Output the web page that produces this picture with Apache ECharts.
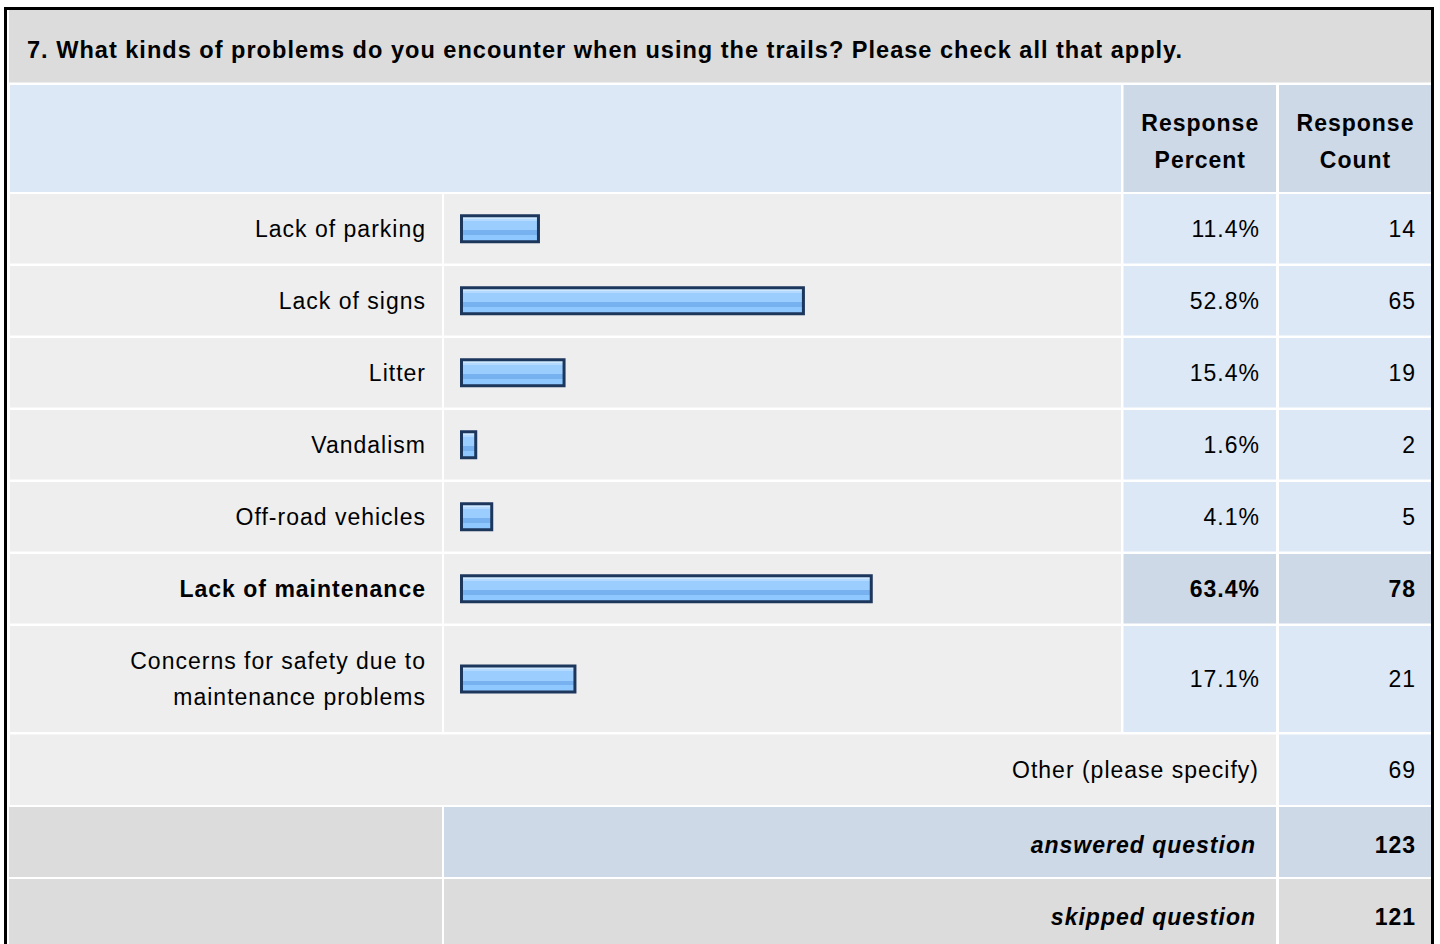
<!DOCTYPE html>
<html>
<head>
<meta charset="utf-8">
<script src="https://cdn.jsdelivr.net/npm/echarts@6/dist/echarts.min.js"></script>
<style>
  html, body { margin: 0; padding: 0; background: #fff; }
  #chart { width: 1440px; height: 944px; }
  /* survey-style tracking on every label */
  #chart text { letter-spacing: 1px; }
</style>
</head>
<body>
<div id="chart"></div>
<script>
// ---- survey question data ----
const questionTitle = '7. What kinds of problems do you encounter when using the trails? Please check all that apply.';
const headerPercent = ['Response', 'Percent'];
const headerCount = ['Response', 'Count'];
const categories = [
  'Lack of parking',
  'Lack of signs',
  'Litter',
  'Vandalism',
  'Off-road vehicles',
  'Lack of maintenance',
  'Concerns for safety due to maintenance problems'
];
const responsePercent = [11.4, 52.8, 15.4, 1.6, 4.1, 63.4, 17.1];
const responseCount = [14, 65, 19, 2, 5, 78, 21];
const otherLabel = 'Other (please specify)';
const otherCount = 69;
const summaryLabels = ['answered question', 'skipped question'];
const summaryCounts = [123, 121];

// ---- table layout ----
const FONT = "'Liberation Sans', Arial, Helvetica, sans-serif";
const FS = 23;
const COL = [[10, 442], [444, 1121], [1123.5, 1276], [1279, 1431]];
const rowTop = [194, 266, 338, 410, 482, 554, 626];
const rowH = [69.5, 69.5, 69.5, 69.5, 69.5, 69.5, 106];
const BAR_ZERO = 463.5;             // x of 0 %
const BAR_SPAN = 640;               // pixels covering 0..100 %
const LABEL_RIGHT = 426;
const topIdx = responsePercent.indexOf(Math.max(...responsePercent));

const C_GRAY = '#dcdcdc', C_ROW = '#eeeeee', C_BLUE = '#dce8f5', C_BLUE2 = '#cdd9e6';

function wrap(text, maxChars) {
  const words = text.split(' ');
  const lines = [];
  let cur = '';
  words.forEach(w => {
    if (cur && (cur + ' ' + w).length > maxChars) { lines.push(cur); cur = w; }
    else cur = cur ? cur + ' ' + w : w;
  });
  if (cur) lines.push(cur);
  return lines.join('\n');
}

const graphics = [];
function cell(x0, x1, y, h, fill) {
  graphics.push({ type: 'rect', z: -10, silent: true,
    shape: { x: x0, y: y, width: x1 - x0, height: h }, style: { fill: fill } });
}
function label(text, x, y, align, opts) {
  opts = opts || {};
  graphics.push({ type: 'text', z: 50, silent: true, x: x, y: y,
    style: { text: text, fill: '#000',
      font: (opts.style || 'normal') + ' ' + (opts.weight || 'normal') + ' ' + (opts.size || FS) + 'px ' + FONT,
      align: align, verticalAlign: 'middle' } });
}

// outer frame
graphics.push({ type: 'rect', z: -20, silent: true,
  shape: { x: 5.5, y: 8.5, width: 1427, height: 1000 },
  style: { fill: '#fff', stroke: '#000', lineWidth: 3 } });

// title row
cell(9, 1431, 10, 72.5, C_GRAY);
label(questionTitle, 27, 50, 'left', { weight: 'bold', size: 23.55 });

// header row
cell(COL[0][0], COL[1][1], 85, 107, C_BLUE);
cell(COL[2][0], COL[2][1], 85, 107, C_BLUE2);
cell(COL[3][0], COL[3][1], 85, 107, C_BLUE2);
const pc = (COL[2][0] + COL[2][1]) / 2 + 0.5, cc = (COL[3][0] + COL[3][1]) / 2 + 0.5;
label(headerPercent[0], pc, 122.5, 'center', { weight: 'bold' });
label(headerPercent[1], pc, 160, 'center', { weight: 'bold' });
label(headerCount[0], cc, 122.5, 'center', { weight: 'bold' });
label(headerCount[1], cc, 160, 'center', { weight: 'bold' });

// answer rows: cells, percent and count text
categories.forEach((name, i) => {
  const y = rowTop[i], h = rowH[i], mid = y + h / 2;
  const hi = i === topIdx;
  cell(COL[0][0], COL[0][1], y, h, C_ROW);
  cell(COL[1][0], COL[1][1], y, h, C_ROW);
  cell(COL[2][0], COL[2][1], y, h, hi ? C_BLUE2 : C_BLUE);
  cell(COL[3][0], COL[3][1], y, h, hi ? C_BLUE2 : C_BLUE);
  label(responsePercent[i].toFixed(1) + '%', 1260, mid, 'right', { weight: hi ? 'bold' : 'normal' });
  label(String(responseCount[i]), 1416, mid, 'right', { weight: hi ? 'bold' : 'normal' });
});

// "other" row
cell(COL[0][0], COL[2][1], 734.5, 70.5, C_ROW);
cell(COL[3][0], COL[3][1], 734.5, 70.5, C_BLUE);
label(otherLabel, 1259, 769.5, 'right');
label(String(otherCount), 1416, 769.5, 'right');

// summary rows
const sumTop = [807, 879], sumH = [70, 80], sumFill = [C_BLUE2, C_GRAY];
summaryLabels.forEach((t, i) => {
  cell(9, COL[0][1], sumTop[i], sumH[i], C_GRAY);
  cell(COL[1][0], COL[2][1], sumTop[i], sumH[i], sumFill[i]);
  cell(COL[3][0], COL[3][1], sumTop[i], sumH[i], sumFill[i]);
  const mid = i === 0 ? 844.5 : 916.5;
  label(t, 1256, mid, 'right', { weight: 'bold', style: 'italic' });
  label(String(summaryCounts[i]), 1416, mid, 'right', { weight: 'bold' });
});

// glossy bar fill
const barFill = new echarts.graphic.LinearGradient(0, 0, 0, 1, [
  { offset: 0, color: '#cde7ff' }, { offset: 0.13, color: '#cde7ff' },
  { offset: 0.13, color: '#b4daff' }, { offset: 0.21, color: '#b4daff' },
  { offset: 0.21, color: '#9bcdff' }, { offset: 0.56, color: '#9bcdff' },
  { offset: 0.56, color: '#78b1f0' }, { offset: 0.74, color: '#78b1f0' },
  { offset: 0.74, color: '#8fc7ff' }, { offset: 1, color: '#8fc7ff' }
]);

// framed bar from 0 to the row's value, with a small inset margin around it
function renderBar(params, api) {
  const cat = api.value(1);
  const p0 = api.coord([0, cat]);
  const p1 = api.coord([api.value(0), cat]);
  return {
    type: 'rect',
    shape: { x: p0[0] - 2, y: p1[1] - 13, width: p1[0] - p0[0] + 4, height: 26 },
    style: { fill: barFill, stroke: '#1c365c', lineWidth: 3 }
  };
}

// one grid per answer row so each bar sits in its own table row
const grids = [], xAxes = [], yAxes = [], series = [];
categories.forEach((name, i) => {
  const hi = i === topIdx;
  grids.push({ left: BAR_ZERO, width: BAR_SPAN, top: rowTop[i], height: rowH[i] });
  xAxes.push({ type: 'value', gridIndex: i, min: 0, max: 100, show: false });
  yAxes.push({ type: 'category', gridIndex: i, data: [name],
    axisLine: { show: false }, axisTick: { show: false }, splitLine: { show: false },
    axisLabel: { margin: BAR_ZERO - LABEL_RIGHT, color: '#000', fontSize: FS, fontFamily: FONT,
      fontWeight: hi ? 'bold' : 'normal', lineHeight: 36, align: 'right',
      formatter: v => wrap(v, 28) } });
  series.push({ type: 'custom', xAxisIndex: i, yAxisIndex: i, silent: true,
    data: [[responsePercent[i], name]], encode: { x: 0, y: 1 },
    renderItem: renderBar });
});

const chart = echarts.init(document.getElementById('chart'), null, { renderer: 'svg' });
chart.setOption({
  animation: false,
  backgroundColor: '#fff',
  grid: grids,
  xAxis: xAxes,
  yAxis: yAxes,
  series: series,
  graphic: graphics
});
</script>
</body>
</html>
